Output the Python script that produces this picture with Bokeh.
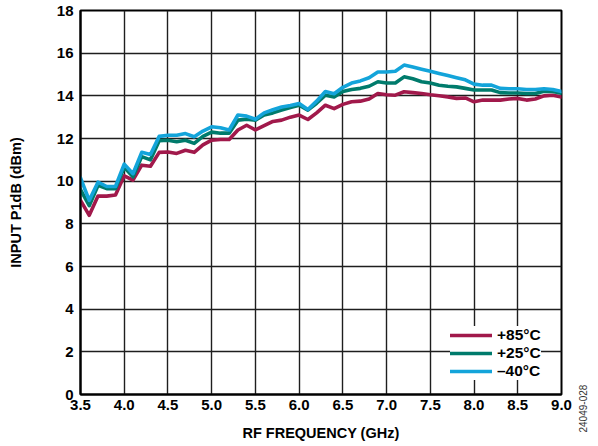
from bokeh.plotting import figure
from bokeh.layouts import row
from bokeh.models import Range1d, FixedTicker, NumeralTickFormatter, Legend, LegendItem, Title
from bokeh.embed import file_html
from bokeh.resources import INLINE

# ---------------- data ----------------
freq = [3.5, 3.6, 3.7, 3.8, 3.9, 4.0, 4.1, 4.2, 4.3, 4.4,
        4.5, 4.6, 4.7, 4.8, 4.9, 5.0, 5.1, 5.2, 5.3, 5.4,
        5.5, 5.6, 5.7, 5.8, 5.9, 6.0, 6.1, 6.2, 6.3, 6.4,
        6.5, 6.6, 6.7, 6.8, 6.9, 7.0, 7.1, 7.2, 7.3, 7.4,
        7.5, 7.6, 7.7, 7.8, 7.9, 8.0, 8.1, 8.2, 8.3, 8.4,
        8.5, 8.6, 8.7, 8.8, 8.9, 9.0]

p1db_85 = [9.10, 8.40, 9.30, 9.30, 9.35, 10.25, 10.05, 10.75, 10.70, 11.35,
           11.37, 11.30, 11.45, 11.35, 11.70, 11.92, 11.95, 11.95, 12.40, 12.62,
           12.40, 12.60, 12.80, 12.86, 13.00, 13.10, 12.89, 13.20, 13.56, 13.40,
           13.60, 13.72, 13.75, 13.85, 14.11, 14.05, 14.03, 14.19, 14.15, 14.11,
           14.05, 14.00, 13.95, 13.88, 13.90, 13.72, 13.80, 13.80, 13.80, 13.85,
           13.88, 13.80, 13.85, 14.00, 14.03, 13.95]

p1db_25 = [9.60, 8.85, 9.80, 9.65, 9.65, 10.65, 10.20, 11.15, 11.00, 11.90,
           11.92, 11.85, 11.92, 11.77, 12.10, 12.30, 12.25, 12.25, 12.86, 12.90,
           12.86, 13.10, 13.20, 13.33, 13.45, 13.56, 13.33, 13.65, 14.03, 13.95,
           14.20, 14.30, 14.35, 14.45, 14.66, 14.60, 14.60, 14.89, 14.80, 14.66,
           14.60, 14.50, 14.45, 14.42, 14.35, 14.27, 14.27, 14.27, 14.15, 14.13,
           14.13, 14.11, 14.11, 14.22, 14.20, 14.12]

p1db_m40 = [10.15, 9.10, 9.95, 9.75, 9.75, 10.80, 10.35, 11.35, 11.25, 12.10,
            12.15, 12.15, 12.23, 12.08, 12.35, 12.55, 12.50, 12.40, 13.10, 13.05,
            12.90, 13.20, 13.35, 13.48, 13.55, 13.64, 13.36, 13.75, 14.20, 14.10,
            14.40, 14.60, 14.70, 14.85, 15.12, 15.12, 15.15, 15.44, 15.35, 15.25,
            15.15, 15.05, 14.95, 14.85, 14.75, 14.55, 14.50, 14.50, 14.35, 14.33,
            14.33, 14.30, 14.30, 14.33, 14.30, 14.20]

series_labels = ["+85°C", "+25°C", "\u201340°C"]
series_colors = ["#A1194B", "#007B6C", "#13A4DA"]

x_ticks = [3.5, 4.0, 4.5, 5.0, 5.5, 6.0, 6.5, 7.0, 7.5, 8.0, 8.5, 9.0]
y_ticks = [0, 2, 4, 6, 8, 10, 12, 14, 16, 18]

x_title = "RF FREQUENCY (GHz)"
y_title = "INPUT P1dB (dBm)"
fig_id = "24049-028"

FONT = "Liberation Sans"

# ---------------- main figure ----------------
p = figure(width=575, height=446, output_backend="svg", toolbar_location=None,
           x_range=Range1d(x_ticks[0], x_ticks[-1]), y_range=Range1d(y_ticks[0], y_ticks[-1]),
           min_border_left=80, min_border_right=14, min_border_top=10, min_border_bottom=52)

p.background_fill_color = "white"
p.border_fill_color = "white"
p.outline_line_color = "black"
p.outline_line_width = 2

p.xaxis.ticker = FixedTicker(ticks=x_ticks)
p.yaxis.ticker = FixedTicker(ticks=y_ticks)
p.xaxis.formatter = NumeralTickFormatter(format="0.0")
p.yaxis.formatter = NumeralTickFormatter(format="0")

for ax in (p.xaxis[0], p.yaxis[0]):
    ax.axis_line_color = "black"
    ax.axis_line_width = 2
    ax.major_tick_line_color = None
    ax.minor_tick_line_color = None
    ax.major_tick_out = 0
    ax.major_tick_in = 0
    ax.minor_tick_out = 0
    ax.minor_tick_in = 0
    ax.major_label_text_font = FONT
    ax.major_label_text_font_style = "bold"
    ax.major_label_text_font_size = "15px"
    ax.major_label_text_color = "black"
    ax.axis_label_text_font = FONT
    ax.axis_label_text_font_style = "bold"
    ax.axis_label_text_font_size = "14.5px"
    ax.axis_label_text_color = "black"

p.xaxis.axis_label = x_title
p.yaxis.axis_label = y_title
p.xaxis.major_label_standoff = 5
p.xaxis.axis_label_standoff = 12
p.yaxis.major_label_standoff = 7
p.yaxis.axis_label_standoff = 30

p.xgrid.ticker = FixedTicker(ticks=x_ticks)
p.ygrid.ticker = FixedTicker(ticks=y_ticks)
p.grid.grid_line_color = "#1e1e1e"
p.grid.grid_line_width = 1.4
p.grid.grid_line_alpha = 1.0

r85 = p.line(freq, p1db_85, line_width=3.6, line_color=series_colors[0], line_join="round", line_cap="round")
r25 = p.line(freq, p1db_25, line_width=3.6, line_color=series_colors[1], line_join="round", line_cap="round")
rm40 = p.line(freq, p1db_m40, line_width=3.6, line_color=series_colors[2], line_join="round", line_cap="round")

legend = Legend(items=[LegendItem(label=series_labels[0], renderers=[r85]),
                       LegendItem(label=series_labels[1], renderers=[r25]),
                       LegendItem(label=series_labels[2], renderers=[rm40])],
                location=(370, 14))
legend.background_fill_color = "white"
legend.background_fill_alpha = 1.0
legend.border_line_color = None
legend.padding = 4
legend.spacing = 0
legend.margin = 0
legend.glyph_width = 42
legend.glyph_height = 16
legend.label_height = 16
legend.label_standoff = 5
legend.label_text_font = FONT
legend.label_text_font_style = "bold"
legend.label_text_font_size = "15.5px"
legend.label_text_color = "black"
p.add_layout(legend)

# ---------------- side strip with the figure number ----------------
side = figure(width=23, height=446, output_backend="svg", toolbar_location=None,
              x_range=Range1d(0, 1), y_range=Range1d(0, 1),
              x_axis_location=None, y_axis_location=None,
              min_border_left=0, min_border_right=0, min_border_top=0, min_border_bottom=0)
side.grid.visible = False
side.outline_line_color = None
side.background_fill_color = "white"
side.border_fill_color = "white"
side.add_layout(Title(text=fig_id, align="left", offset=-38, standoff=2,
                      text_font=FONT, text_font_style="normal", text_font_size="10px",
                      text_color="#333333"), "left")

layout = row(p, side)
open("out.html", "w").write(file_html(layout, INLINE))
